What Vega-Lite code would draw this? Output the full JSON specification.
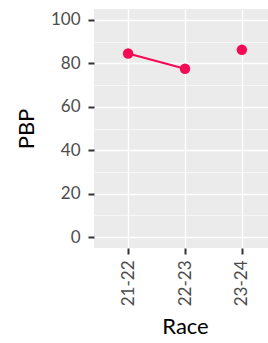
{
  "$schema": "https://vega.github.io/schema/vega-lite/v6.json",
  "autosize": "none",
  "width": 182,
  "height": 239,
  "padding": {"left": 94, "top": 9, "right": 0, "bottom": 95},
  "background": "white",
  "config": {
    "view": {"fill": "#EBEBEB", "stroke": null},
    "font": "Lato",
    "axis": {"labelFont": "Lato", "titleFont": "Lato"}
  },
  "data": {"values": [
    {"Race": "21-22", "PBP": 84.5, "seg": "a"},
    {"Race": "22-23", "PBP": 77.5, "seg": "a"},
    {"Race": "23-24", "PBP": 86.2, "seg": "b"}
  ]},
  "encoding": {
    "x": {"field": "Race", "type": "ordinal",
      "scale": {"domain": ["21-22", "22-23", "23-24"], "padding": 0.6},
      "axis": {"title": "Race", "titleFontSize": 22, "titleFontWeight": "normal", "titleColor": "black", "titlePadding": 11,
        "labelAngle": 270, "labelFontSize": 17, "labelColor": "#4D4D4D", "labelPadding": 6, "labelBaseline": "middle",
        "domain": false, "tickColor": "#333333", "tickSize": 6, "tickWidth": 2,
        "grid": true, "gridColor": "white", "gridWidth": 1.3}},
    "y": {"field": "PBP", "type": "quantitative",
      "scale": {"domain": [-5, 105], "nice": false, "zero": false}}
  },
  "layer": [
    {
      "mark": {"type": "line", "color": "#F50A55", "strokeWidth": 2.2},
      "encoding": {
        "detail": {"field": "seg"},
        "y": {"field": "PBP", "type": "quantitative",
          "scale": {"domain": [-5, 105], "nice": false, "zero": false},
          "axis": {"orient": "right", "values": [10, 30, 50, 70, 90], "grid": true, "gridColor": "white", "gridWidth": 0.6,
            "labels": false, "ticks": false, "domain": false, "title": null}}
      }
    },
    {
      "mark": {"type": "circle", "color": "#F50A55", "opacity": 1, "size": 110},
      "encoding": {
        "y": {"field": "PBP", "type": "quantitative",
          "scale": {"domain": [-5, 105], "nice": false, "zero": false},
          "axis": {"orient": "left", "values": [0, 20, 40, 60, 80, 100], "title": "PBP", "titleFontSize": 22, "titleFontWeight": "normal", "titleColor": "black", "titlePadding": 12,
            "labelFontSize": 17, "labelColor": "#4D4D4D", "labelPadding": 8,
            "domain": false, "tickColor": "#333333", "tickSize": 6, "tickWidth": 2,
            "grid": true, "gridColor": "white", "gridWidth": 1.3}}
      }
    }
  ],
  "resolve": {"axis": {"y": "independent"}, "scale": {"y": "shared"}}
}
